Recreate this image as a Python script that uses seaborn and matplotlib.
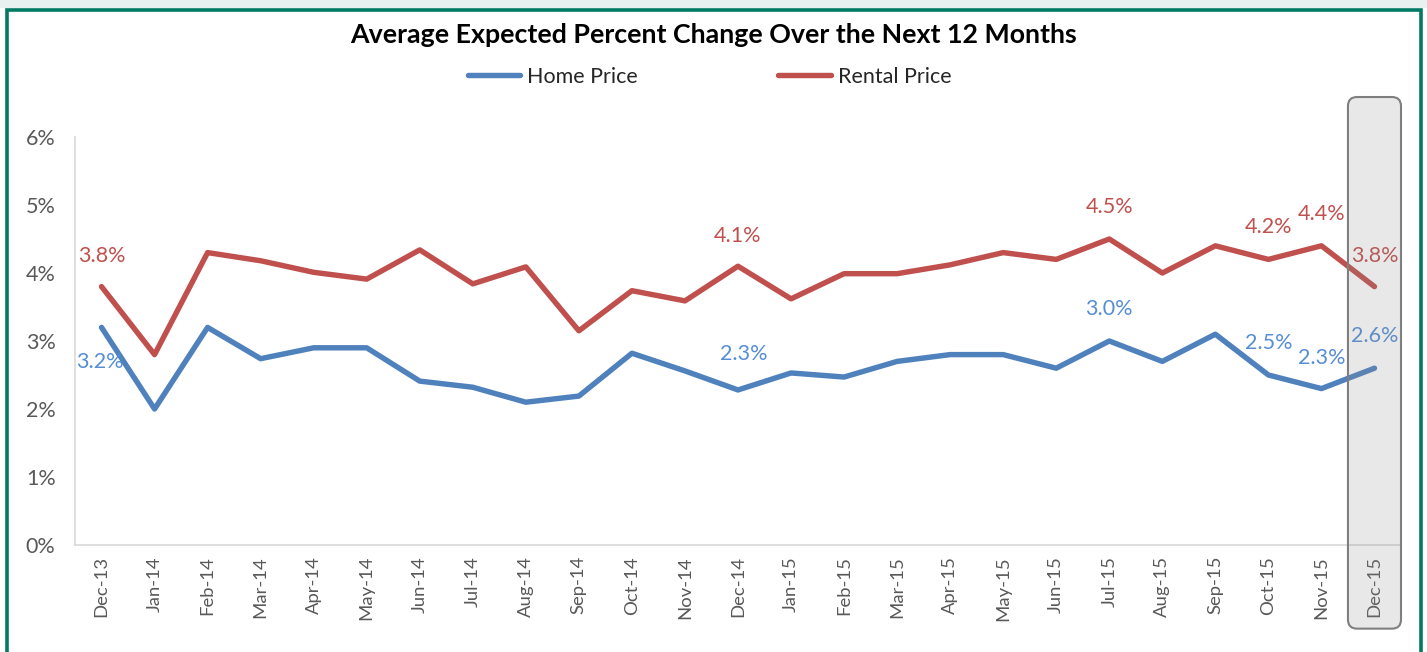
import pandas as pd
import numpy as np
import matplotlib.pyplot as plt
import seaborn as sns
from matplotlib.patches import FancyBboxPatch, Rectangle
from matplotlib.lines import Line2D
import matplotlib.transforms as mtransforms

# Data
months = ['Dec-13', 'Jan-14', 'Feb-14', 'Mar-14', 'Apr-14', 'May-14', 'Jun-14', 'Jul-14',
          'Aug-14', 'Sep-14', 'Oct-14', 'Nov-14', 'Dec-14', 'Jan-15', 'Feb-15', 'Mar-15',
          'Apr-15', 'May-15', 'Jun-15', 'Jul-15', 'Aug-15', 'Sep-15', 'Oct-15', 'Nov-15', 'Dec-15']
home_price = [3.2, 2.0, 3.2, 2.74, 2.9, 2.9, 2.41, 2.32, 2.1, 2.19, 2.82, 2.56, 2.28,
              2.53, 2.47, 2.7, 2.8, 2.8, 2.6, 3.0, 2.7, 3.1, 2.5, 2.3, 2.6]
rental_price = [3.8, 2.8, 4.3, 4.18, 4.01, 3.91, 4.34, 3.84, 4.09, 3.15, 3.74, 3.59, 4.1,
                3.62, 3.99, 3.99, 4.12, 4.3, 4.2, 4.5, 4.0, 4.4, 4.2, 4.4, 3.8]

# labelled points: month -> offset (points)
home_labels = {'Dec-13': (-1, -25), 'Dec-14': (4, 26), 'Jul-15': (0, 23), 'Oct-15': (0, 23),
               'Nov-15': (0, 22), 'Dec-15': (0, 23)}
rental_labels = {'Dec-13': (0, 22), 'Dec-14': (0, 22), 'Jul-15': (0, 23), 'Oct-15': (0, 23),
                 'Nov-15': (0, 23), 'Dec-15': (0, 22)}

blue = '#4F81BD'
red = '#C0504D'

df = pd.DataFrame({
    'Month': months * 2,
    'Value': home_price + rental_price,
    'Series': ['Home Price'] * len(months) + ['Rental Price'] * len(months),
})
df['pos'] = df['Month'].map({m: i for i, m in enumerate(months)})

sns.set_style('white')
plt.rcParams['font.family'] = ['Lato', 'DejaVu Sans']

fig = plt.figure(figsize=(14.27, 6.52), dpi=100)
ax = fig.add_axes([75 / 1427, 107 / 652, 1326 / 1427, 408 / 652])

sns.lineplot(data=df, x='pos', y='Value', hue='Series', palette=[blue, red],
             linewidth=3.9, ax=ax, legend=False, sort=False)

ax.set_xlim(-0.5, len(months) - 0.5)
ax.set_ylim(0, 6)
ax.set_xticks(range(len(months)))
ax.set_xticklabels(months, rotation=90, fontsize=13.3, color='#595959')
ax.set_yticks(range(7))
ax.set_yticklabels([f'{v}%' for v in range(7)], fontsize=15.5, color='#595959')
ax.tick_params(axis='y', length=6, color='#D9D9D9', width=1.2, pad=8)
ax.tick_params(axis='x', length=0, pad=8)
ax.set_xlabel('')
ax.set_ylabel('')
for s in ['top', 'right']:
    ax.spines[s].set_visible(False)
for s in ['left', 'bottom']:
    ax.spines[s].set_color('#D9D9D9')
    ax.spines[s].set_linewidth(1.2)

# data labels
for m, off in home_labels.items():
    i = months.index(m)
    ax.annotate(f'{home_price[i]:.1f}%', (i, home_price[i]), xytext=off,
                textcoords='offset points', ha='center', va='center',
                fontsize=15.5, color='#558ED5')
for m, off in rental_labels.items():
    i = months.index(m)
    ax.annotate(f'{rental_price[i]:.1f}%', (i, rental_price[i]), xytext=off,
                textcoords='offset points', ha='center', va='center',
                fontsize=15.5, color=red)

# highlight box for latest month
trans = mtransforms.blended_transform_factory(ax.transData, ax.transAxes)
box = FancyBboxPatch((len(months) - 1.5, -0.205), 1.0, 1.303,
                     boxstyle='round,pad=0,rounding_size=0.17', mutation_aspect=0.13,
                     transform=trans, facecolor=(0.55, 0.55, 0.55, 0.2),
                     edgecolor='#7F7F7F', linewidth=1.5, clip_on=False, zorder=5)
ax.add_patch(box)

# title and legend
fig.text(0.5, 1 - 35 / 652, 'Average Expected Percent Change Over the Next 12 Months',
         ha='center', va='center', fontsize=19.3, fontweight='bold', color='black')
handles = [Line2D([], [], color=blue, linewidth=3.9), Line2D([], [], color=red, linewidth=3.9)]
fig.legend(handles, ['Home Price', 'Rental Price'], loc='center', ncol=2,
           bbox_to_anchor=(709.5 / 1427, 1 - 77 / 652), frameon=False, fontsize=15.5,
           handlelength=2.45, handletextpad=0.33, columnspacing=6.5)

# outer border
fig.patches.append(Rectangle((0, 1 - 8 / 652), 1, 8 / 652, transform=fig.transFigure,
                             facecolor='#E8F1EF', edgecolor='none', zorder=0))
fig.patches.append(Rectangle((6.5 / 1427, -0.05), 1414.5 / 1427, 1.05 - 9.5 / 652,
                             transform=fig.transFigure, facecolor='none',
                             edgecolor='#007A63', linewidth=2.6, zorder=10))

fig.savefig('out.png', dpi=100)
